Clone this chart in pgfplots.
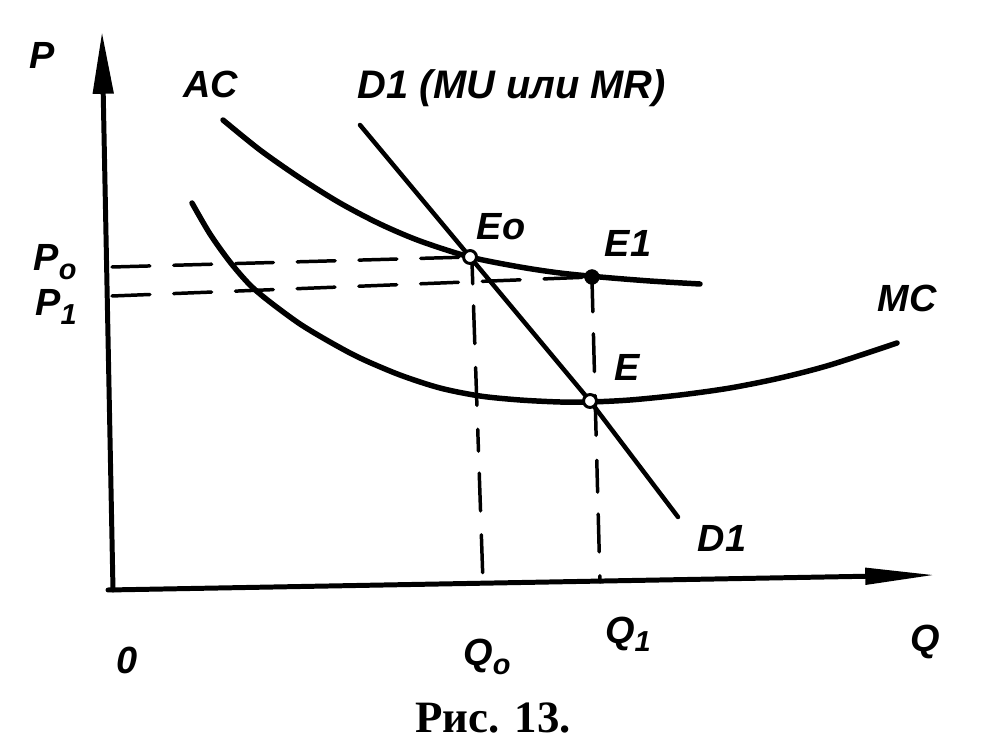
\documentclass[border=0pt]{standalone}
\usepackage{pgfplots}
\pgfplotsset{compat=1.18}
\usepackage{fontspec}
\setmainfont{Liberation Sans}
\newfontfamily\capfont{Liberation Serif}
\usetikzlibrary{arrows.meta}
\tikzset{lab/.style={font=\fontsize{38}{40}\selectfont\bfseries\itshape, inner sep=0pt}}
\newcommand{\sub}[1]{\raisebox{-0.22em}{\fontsize{29}{30}\selectfont #1}}
\begin{document}
\begin{tikzpicture}
\begin{axis}[
  width=985bp, height=750bp, scale only axis,
  xmin=0, xmax=985, ymin=0, ymax=750, y dir=reverse,
  hide axis, clip=false,
  every axis plot/.append style={black, line cap=round, line join=round},
]
% bounding box
\addplot[draw=none] coordinates {(0,0) (985,750)};
% axes
\addplot[line width=5, -{Stealth[length=62pt,width=20pt,inset=0pt]}] coordinates {(113,590) (102,32)};
\addplot[line width=5, -{Stealth[length=70pt,width=16pt,inset=0pt]}] coordinates {(108,590) (935,575)};
% dashed guides
\addplot[line width=3.5, dash pattern=on 38pt off 24pt] coordinates {(112,267) (470,257)};
\addplot[line width=3.5, dash pattern=on 38pt off 24pt] coordinates {(112,296) (592,277)};
\addplot[line width=3.5, dash pattern=on 22pt off 22pt on 38pt off 24pt on 38pt off 24pt] coordinates {(472,262) (483,583)};
\addplot[line width=3.5, dash pattern=on 32pt off 22pt on 38pt off 24pt on 40pt off 25pt] coordinates {(592,280) (600,582)};
% AC curve
\addplot[smooth, line width=5.5] coordinates {(223,120) (260,150) (300,178) (340,203) (380,224) (420,241) (470,257) (520,267) (560,273) (600,277) (650,281) (700,284)};
% MC curve
\addplot[smooth, line width=5.5] coordinates {(192,203) (210,234) (230,262) (250,285) (270,302) (300,324) (330,342) (360,358) (400,375) (440,388) (480,396) (520,400) (560,402) (590,402) (630,400) (680,395) (730,388) (780,378) (830,365) (897,343)};
% D1 line
\addplot[line width=4.5] coordinates {(360,125) (470,257) (590,401) (678,517)};
% points
\addplot[only marks, mark=*, mark size=6.5, mark options={fill=white, line width=3}] coordinates {(470,257) (590,401)};
\addplot[only marks, mark=*, mark size=7.5, mark options={fill=black}] coordinates {(592,277)};
% labels
\node[lab] at (42,55) {P};
\node[lab] at (211,84) {AC};
\node[lab, font=\fontsize{40}{42}\selectfont\bfseries\itshape] at (512,88) {D1 (MU или MR)};
\node[lab] at (501,227) {Eo};
\node[lab] at (628,243) {E1};
\node[lab] at (627,367) {E};
\node[lab] at (907,298) {MC};
\node[lab] at (722,538) {D1};
\node[lab] at (55,262) {P\sub{o}};
\node[lab] at (56,307) {P\sub{1}};
\node[lab] at (127,660) {0};
\node[lab] at (487,657) {Q\sub{o}};
\node[lab] at (628,634) {Q\sub{1}};
\node[lab] at (925,642) {Q};
\node[inner sep=0pt, font=\fontsize{45}{48}\selectfont\capfont\bfseries] at (493,718) {Рис. 13.};
\end{axis}
\end{tikzpicture}
\end{document}
